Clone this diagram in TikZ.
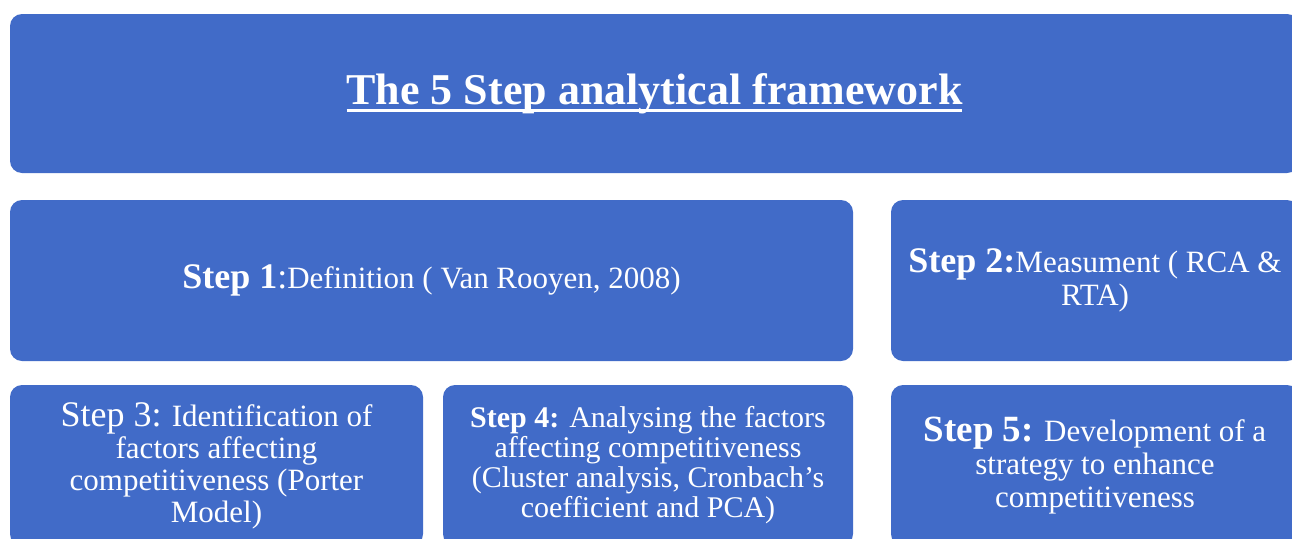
\documentclass[tikz,border=0pt]{standalone}
\usepackage{fontspec}
\setmainfont{Liberation Serif}
\usetikzlibrary{positioning}

\definecolor{stepblue}{RGB}{65,107,200}
\newcommand{\steplab}[2][36]{{\fontsize{#1}{33}\selectfont\bfseries #2}}

\begin{document}
\begin{tikzpicture}[x=1pt,y=1pt,
    stepbox/.style={fill=stepblue, rounded corners=12pt, text=white, align=center,
      inner sep=0pt, outer sep=0pt, minimum height=161pt,
      font=\fontsize{31}{33}\selectfont},
    titletext/.style={text=white, inner sep=0pt, outer sep=0pt,
      font=\fontsize{44}{48}\selectfont\bfseries}]
	\useasboundingbox (0,0) rectangle (1292,-538);
	\clip (0,0) rectangle (1292,-538);
	%
	\node[stepbox, anchor=north west, minimum width=1289pt, minimum height=159pt] (title) at (10,-14) {};
	\node[titletext] (titletxt) at (title) {The 5 Step analytical framework};
	\draw[white, line width=3pt] ([yshift=-6pt]titletxt.base west) -- ([yshift=-6pt]titletxt.base east);
	%
	\node[stepbox, anchor=north west, minimum width=843pt] (defin) at (10,-200)
		{\steplab{Step 1}{\fontsize{36}{33}\selectfont:}Definition ( Van Rooyen, 2008)};
	\node[stepbox, right=38pt of defin, minimum width=408pt] (measure)
		{\steplab{Step 2:}Measument ( RCA \&\\RTA)};
	%
	\node[stepbox, below=24pt of defin.south west, anchor=north west, minimum width=413pt,
		font=\fontsize{31}{32}\selectfont] (ident)
		{{\fontsize{36}{32}\selectfont Step 3:} Identification of\\factors affecting\\competitiveness (Porter\\Model)};
	\node[stepbox, right=20pt of ident, minimum width=410pt,
		font=\fontsize{30}{30}\selectfont] (analyse)
		{\steplab[30]{Step 4:} Analysing the factors\\affecting competitiveness\\(Cluster analysis, Cronbach’s\\coefficient and PCA)};
	\node[stepbox, below=24pt of measure, minimum width=408pt] (strategy)
		{\steplab[37]{Step 5:} Development of a\\strategy to enhance\\competitiveness};
\end{tikzpicture}
\end{document}
